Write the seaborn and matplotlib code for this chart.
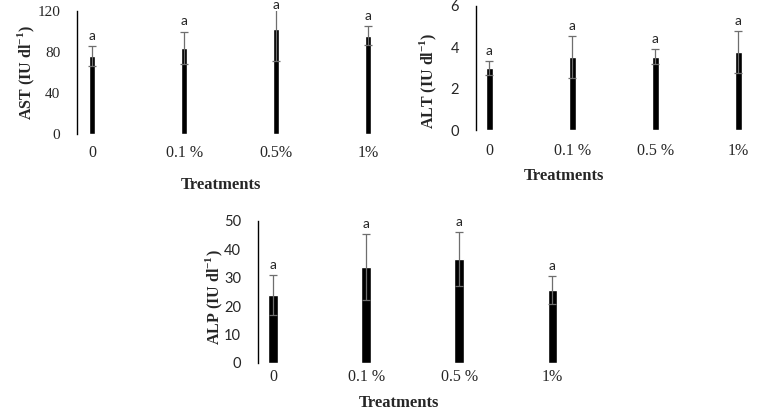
import matplotlib
matplotlib.use("Agg")
import matplotlib.pyplot as plt
import seaborn as sns
import pandas as pd

# treatments and readings (mean, error)
treatments_a = ["0", "0.1 %", "0.5%", "1%"]
treatments_b = ["0", "0.1 %", "0.5 %", "1%"]

ast_mean = [76, 84, 103, 96]
ast_err = [10, 16, 32, 9]

alt_mean = [3.0, 3.55, 3.55, 3.78]
alt_err = [0.33, 1.0, 0.36, 1.0]

alp_mean = [24, 33.7, 36.4, 25.6]
alp_err = [7, 11.5, 9.5, 5]

letters = ["a", "a", "a", "a"]

sns.set_style("white")
plt.rcParams["font.family"] = ["Liberation Serif", "DejaVu Serif"]
plt.rcParams["mathtext.fontset"] = "custom"
plt.rcParams["mathtext.rm"] = "Liberation Serif"
plt.rcParams["mathtext.bf"] = "Liberation Serif:bold"

fig = plt.figure(figsize=(7.75, 4.11), dpi=100)

panels = [
    # rect, cats, means, errs, ylabel, ylim, yticks, tickfont, barwidth, ylab_xy, xlab_xy, xpad
    ([0.0994, 0.674, 0.399, 0.299], treatments_a, ast_mean, ast_err,
     r"AST (IU dl$^{\mathbf{-1}}$)", (0, 120), [0, 40, 80, 120], "Liberation Serif",
     0.07, (-0.128, 0.5), (0.466, -0.347), 8),
    ([0.6138, 0.6825, 0.36, 0.303], treatments_b, alt_mean, alt_err,
     r"ALT (IU dl$^{\mathbf{-1}}$)", (0, 6), [0, 2, 4, 6], "Lato",
     0.085, (-0.13, 0.40), (0.316, -0.30), 9),
    ([0.3325, 0.1168, 0.404, 0.346], treatments_b, alp_mean, alp_err,
     r"ALP (IU dl$^{\mathbf{-1}}$)", (0, 50), [0, 10, 20, 30, 40, 50], "Lato",
     0.10, (-0.105, 0.466), (0.451, -0.225), 4),
]

for (rect, cats, means, errs, ylab, ylim, yticks, tfont, bw, ylab_xy, xlab_xy, xpad) in panels:
    ax = fig.add_axes(rect)
    df = pd.DataFrame({"treatment": cats, "value": means})
    sns.barplot(data=df, x="treatment", y="value", color="black", width=bw,
                errorbar=None, ax=ax, saturation=1)
    xs = list(range(len(cats)))
    ax.errorbar(xs, means, yerr=errs, fmt="none", ecolor="#6e6e6e",
                elinewidth=0.9, capsize=3, capthick=0.9)
    ax.set_ylim(*ylim)
    ax.set_xlim(-0.165, 3.2)
    ax.set_yticks(yticks)
    for lab in ax.get_yticklabels():
        lab.set_fontfamily(tfont)
        lab.set_fontsize(11 if tfont == "Liberation Serif" else 10.5)
    ax.tick_params(axis="y", length=0, pad=12)
    ax.tick_params(axis="x", length=0, pad=xpad, labelsize=11.5)
    sns.despine(ax=ax, bottom=True)
    ax.spines["left"].set_linewidth(1.0)
    ax.spines["left"].set_color("black")
    ax.set_xlabel("Treatments", fontsize=12, fontweight="bold")
    ax.set_ylabel(ylab, fontsize=11.5, fontweight="bold")
    ax.xaxis.set_label_coords(*xlab_xy)
    ax.yaxis.set_label_coords(*ylab_xy)
    for x, m, e, t in zip(xs, means, errs, letters):
        top = m + e
        off = 3
        if top >= ylim[1]:
            top, off = ylim[1], 0
        ax.annotate(t, (x, top), xytext=(0, off), textcoords="offset points",
                    ha="center", va="bottom", fontsize=10, family="Lato",
                    annotation_clip=False)

fig.savefig("out.png", dpi=100)
